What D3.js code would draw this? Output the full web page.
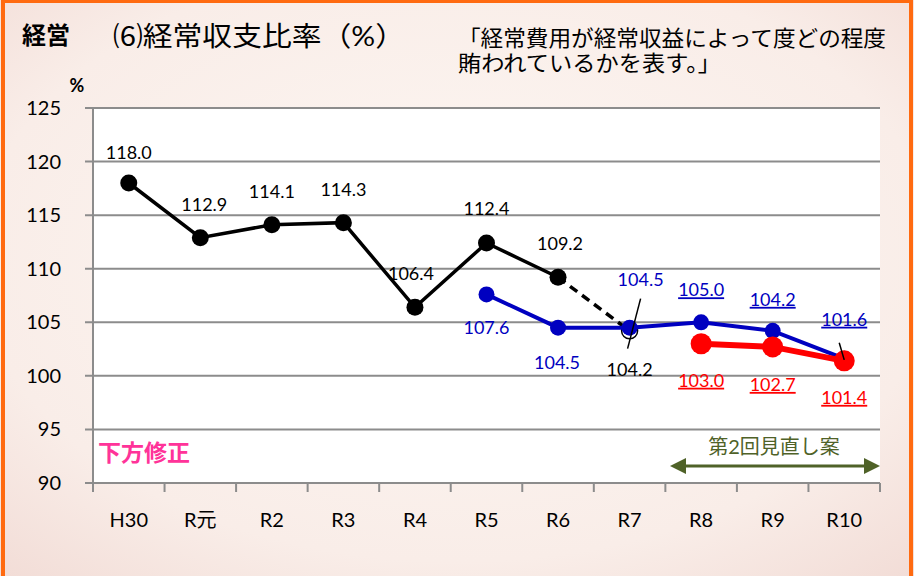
<!DOCTYPE html>
<html lang="ja">
<head>
<meta charset="UTF-8">
<title>経常収支比率</title>
<style>
  body { margin: 0; }
  svg text { font-family: Lato, "Noto Sans CJK JP", sans-serif; }
  .grid line { stroke: #8c8c8c; stroke-width: 2; }
</style>
</head>
<body>
<script src="https://d3js.org/d3.v7.min.js"></script>
<script>
// data
var years = ["H30", "R元", "R2", "R3", "R4", "R5", "R6", "R7", "R8", "R9", "R10"];
var actual = [118.0, 112.9, 114.1, 114.3, 106.4, 112.4, 109.2, null, null, null, null];
var actualEst = [null, null, null, null, null, null, 109.2, 104.2, null, null, null]; // dashed part
var plan1 = [null, null, null, null, null, 107.6, 104.5, 104.5, 105.0, 104.2, 101.6];
var plan2 = [null, null, null, null, null, null, null, null, 103.0, 102.7, 101.4];
var yTicks = [90, 95, 100, 105, 110, 115, 120, 125];

var W = 914, H = 576;
var svg = d3.select("body").append("svg").attr("width", W).attr("height", H);

// background
var defs = svg.append("defs");
var grad = defs.append("radialGradient").attr("id", "bg").attr("cx", "50%").attr("cy", "45%").attr("r", "75%");
grad.append("stop").attr("offset", "0%").attr("stop-color", "#fdf7f3");
grad.append("stop").attr("offset", "70%").attr("stop-color", "#f9ede8");
grad.append("stop").attr("offset", "100%").attr("stop-color", "#f2dcd6");
svg.append("rect").attr("width", W).attr("height", H).attr("fill", "url(#bg)");
svg.append("rect").attr("x", 3).attr("y", 1).attr("width", W - 6).attr("height", H + 20)
  .attr("fill", "none").attr("stroke", "#ff6a10").attr("stroke-width", 4);

var x = d3.scaleBand().domain(years).range([93, 880]);
var y = d3.scaleLinear().domain([90, 125]).range([483, 108]);
var cx = function(i) { return x(years[i]) + x.bandwidth() / 2; };

// plot area
svg.append("rect").attr("x", 93).attr("y", 108).attr("width", 787).attr("height", 375).attr("fill", "#fff");

// gridlines + y labels
var g = svg.append("g").attr("class", "grid");
g.selectAll("line").data(yTicks).enter().append("line")
  .attr("x1", 85).attr("x2", 880)
  .attr("y1", function(d) { return y(d); }).attr("y2", function(d) { return y(d); });
svg.selectAll(".ylab").data(yTicks).enter().append("text")
  .attr("x", 61).attr("y", function(d) { return y(d) + 7; })
  .attr("text-anchor", "end").attr("font-size", 20).attr("fill", "#000")
  .text(function(d) { return d; });

// y axis line
svg.append("line").attr("x1", 93).attr("x2", 93).attr("y1", 108).attr("y2", 483)
  .attr("stroke", "#8c8c8c").attr("stroke-width", 2);

// x axis ticks at band edges
var edges = years.map(function(d) { return x(d); }).concat([880]);
svg.selectAll(".xtick").data(edges).enter().append("line")
  .attr("x1", function(d) { return d; }).attr("x2", function(d) { return d; })
  .attr("y1", 483).attr("y2", 492).attr("stroke", "#8c8c8c").attr("stroke-width", 2);
svg.selectAll(".xlab").data(years).enter().append("text")
  .attr("x", function(d) { return x(d) + x.bandwidth() / 2; }).attr("y", 527)
  .attr("text-anchor", "middle").attr("font-size", 20).attr("fill", "#000")
  .text(function(d) { return d; });

svg.append("text").attr("x", 77).attr("y", 92).attr("text-anchor", "middle")
  .attr("font-size", 18).attr("font-weight", "bold").text("%");

// titles
svg.append("text").attr("x", 22).attr("y", 44).attr("font-size", 24).attr("font-weight", "bold").text("経営");
svg.append("text").attr("x", 113).attr("y", 46).attr("font-size", 27)
  .attr("textLength", 292).attr("lengthAdjust", "spacingAndGlyphs").text("⑹経常収支比率（%）");
svg.append("text").attr("x", 458).attr("y", 46).attr("font-size", 22)
  .attr("textLength", 428).attr("lengthAdjust", "spacingAndGlyphs").text("「経常費用が経常収益によって度どの程度");
svg.append("text").attr("x", 458).attr("y", 71).attr("font-size", 22)
  .attr("textLength", 263).attr("lengthAdjust", "spacingAndGlyphs").text("賄われているかを表す。」");

// lines
function lineFor(arr) {
  return d3.line().defined(function(d) { return d != null; })
    .x(function(d, i) { return cx(i); }).y(function(d) { return y(d); })(arr);
}
svg.append("path").attr("d", lineFor(actualEst)).attr("fill", "none")
  .attr("stroke", "#000").attr("stroke-width", 3.5).attr("stroke-dasharray", "9,6");
svg.append("path").attr("d", lineFor(actual)).attr("fill", "none")
  .attr("stroke", "#000").attr("stroke-width", 3.5);
actual.forEach(function(d, i) {
  if (d == null) return;
  svg.append("circle").attr("cx", cx(i)).attr("cy", y(d)).attr("r", 8.5).attr("fill", "#000");
});
// hollow R7 estimate marker
svg.append("circle").attr("cx", cx(7)).attr("cy", y(actualEst[7])).attr("r", 8)
  .attr("fill", "#fff").attr("stroke", "#000").attr("stroke-width", 1.5);

svg.append("path").attr("d", lineFor(plan1)).attr("fill", "none")
  .attr("stroke", "#0000c0").attr("stroke-width", 4);
plan1.forEach(function(d, i) {
  if (d == null) return;
  svg.append("circle").attr("cx", cx(i)).attr("cy", y(d)).attr("r", 8).attr("fill", "#0000c0");
});

svg.append("path").attr("d", lineFor(plan2)).attr("fill", "none")
  .attr("stroke", "#ff0000").attr("stroke-width", 6);
plan2.forEach(function(d, i) {
  if (d == null) return;
  svg.append("circle").attr("cx", cx(i)).attr("cy", y(d)).attr("r", 10.5).attr("fill", "#ff0000");
});

// data labels
function label(v, i, dx, dy, color, ul) {
  svg.append("text").attr("x", cx(i) + dx).attr("y", y(v) + dy)
    .attr("text-anchor", "middle").attr("font-size", 18).attr("fill", color)
    .style("text-decoration", ul ? "underline" : null)
    .text(v.toFixed(1));
}
var offA = [[0, -24], [4, -27], [0, -27], [0, -27], [-4, -27], [0, -28], [2, -27]];
actual.forEach(function(v, i) { if (v != null) label(v, i, offA[i][0], offA[i][1], "#000", false); });
label(actualEst[7], 7, 0, 45, "#000", false);

var offB = {5: [0, 40], 6: [-1, 41], 7: [11, -42], 8: [0, -26], 9: [0, -25], 10: [0, -33]};
plan1.forEach(function(v, i) { if (v != null) label(v, i, offB[i][0], offB[i][1], "#0000c0", i >= 8); });
var offC = {8: [0, 43], 9: [0, 44], 10: [0, 43]};
plan2.forEach(function(v, i) { if (v != null) label(v, i, offC[i][0], offC[i][1], "#ff0000", true); });

// leader lines
svg.append("line").attr("x1", cx(7) + 11).attr("y1", y(plan1[7]) - 29)
  .attr("x2", cx(7) - 2).attr("y2", y(plan1[7]) + 21).attr("stroke", "#000").attr("stroke-width", 1.5);
svg.append("line").attr("x1", cx(10) - 5).attr("y1", y(plan1[10]) - 16)
  .attr("x2", cx(10)).attr("y2", y(plan2[10]) - 1).attr("stroke", "#000").attr("stroke-width", 1.5);

// annotations
svg.append("text").attr("x", 98).attr("y", 461).attr("font-size", 23).attr("font-weight", "bold")
  .attr("fill", "#ff3399").text("下方修正");
svg.append("text").attr("x", 774).attr("y", 454).attr("text-anchor", "middle").attr("font-size", 20)
  .attr("fill", "#4f6228").text("第2回見直し案");
var ay = 466;
svg.append("line").attr("x1", 682).attr("x2", 868).attr("y1", ay).attr("y2", ay)
  .attr("stroke", "#4f6228").attr("stroke-width", 3);
svg.append("path").attr("d", "M670," + ay + "L686," + (ay - 8) + "L686," + (ay + 8) + "Z").attr("fill", "#4f6228");
svg.append("path").attr("d", "M880," + ay + "L864," + (ay - 8) + "L864," + (ay + 8) + "Z").attr("fill", "#4f6228");
</script>
</body>
</html>
